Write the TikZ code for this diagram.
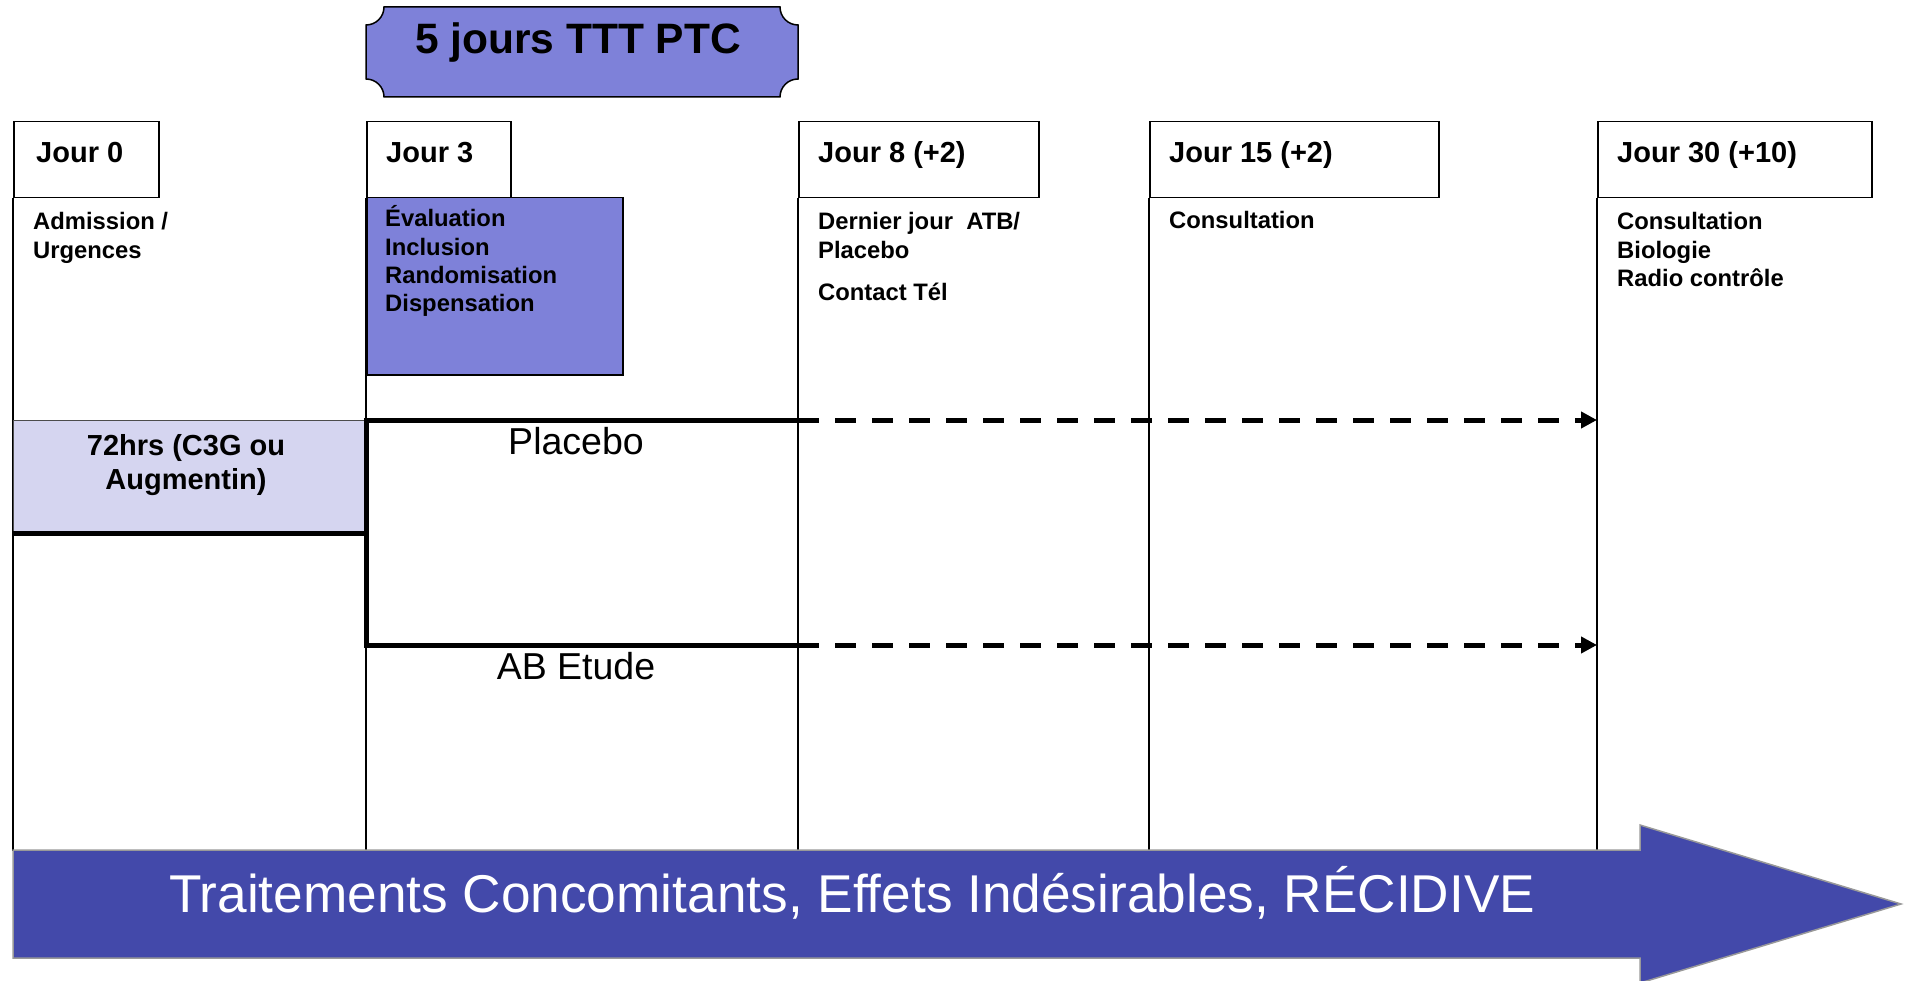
\documentclass[tikz,border=0pt]{standalone}
\usepackage{fontspec}
\setmainfont{Liberation Sans}
\usetikzlibrary{arrows.meta}
\definecolor{plaqueblue}{RGB}{126,129,217}
\definecolor{palelav}{RGB}{213,213,240}
\definecolor{bandblue}{RGB}{67,73,170}
\newcommand\fsz[2]{\fontsize{#1}{#2}\selectfont}
\newcommand\stackl[1]{\begin{tabular}[t]{@{}l@{}}#1\end{tabular}}
\newcommand\stackc[1]{\begin{tabular}[t]{@{}c@{}}#1\end{tabular}}
\begin{document}
\begin{tikzpicture}[x=1pt,y=-1pt,
  daybox/.style={draw=black,line width=1.5pt,fill=white,anchor=north west,inner sep=0pt,
                 minimum height=76pt},
  daylabel/.style={anchor=base west,inner sep=0pt,font=\fsz{29}{34}\bfseries},
  note/.style={anchor=base west,inner sep=0pt,font=\fsz{23.8}{28.3}\bfseries},
  colline/.style={line width=1.5pt},
  armline/.style={line width=5pt,line join=miter},
  armdash/.style={line width=5pt,dash pattern=on 21pt off 16pt,
                  -{Triangle[length=16pt,width=16pt]}},
  armlabel/.style={anchor=base,inner sep=0pt,font=\fsz{37.5}{42}},
]
\useasboundingbox (0,0) rectangle (1905,981);

% day headers
\node[daybox,minimum width=145pt] (d0)  at (13,121)   {};
\node[daybox,minimum width=144pt] (d3)  at (366,121)  {};
\node[daybox,minimum width=240pt] (d8)  at (798,121)  {};
\node[daybox,minimum width=289pt] (d15) at (1149,121) {};
\node[daybox,minimum width=274pt] (d30) at (1597,121) {};

% column rules down to the band
\coordinate (bandtop) at (0,851);
\foreach \d in {d0,d3,d8,d15,d30}
  \draw[colline] (\d.south west) -- (\d.south west |- bandtop);

\node[daylabel] (t0)  at (36,163)   {Jour 0};
\node[daylabel] (t3)  at (386,163)  {Jour 3};
\node[daylabel] (t8)  at (818,163)  {Jour 8 (+2)};
\node[daylabel] (t15) at (1169,163) {Jour 15 (+2)};
\node[daylabel] (t30) at (1617,163) {Jour 30 (+10)};

% treatment plaque
\filldraw[fill=plaqueblue,draw=black,line width=1.5pt]
  (384,7) -- (780,7) arc[start angle=180,end angle=90,radius=18]
  -- (798,79) arc[start angle=270,end angle=180,radius=18]
  -- (384,97) arc[start angle=0,end angle=-90,radius=18]
  -- (366,25) arc[start angle=90,end angle=0,radius=18] -- cycle;
\node[anchor=base,inner sep=0pt,font=\fsz{42.5}{48}\bfseries] (ttt) at (578,54) {5 jours TTT PTC};

% inclusion visit
\node[draw=black,line width=1.5pt,fill=plaqueblue,anchor=north west,inner sep=0pt,
      minimum width=256pt,minimum height=177pt] (eval) at (366,197) {};
\node[note] (evaltext) at (385,227) {\stackl{Évaluation\\Inclusion\\Randomisation\\Dispensation}};

% visit notes
\node[note] (n0)  at (33,230)   {\stackl{Admission /\\Urgences}};
\node[note] (n8)  at (818,230)  {\stackl{Dernier jour~ ATB/\\Placebo}};
\node[note] (n8b) at (818,301)  {Contact Tél};
\node[note] (n15) at (1169,229) {Consultation};
\node[note] (n30) at (1617,230) {\stackl{Consultation\\Biologie\\Radio contrôle}};

% initial antibiotic therapy
\node[draw=black!70,line width=1pt,fill=palelav,anchor=north west,inner sep=0pt,
      minimum width=353pt,minimum height=112pt] (h72) at (13,420) {};
\node[anchor=base,inner sep=0pt,font=\fsz{29}{34}\bfseries] (h72text) at (186,455)
  {\stackc{72hrs (C3G ou\\Augmentin)}};

% randomised arms
\coordinate (forktop) at (366,420);
\coordinate (forkbot) at (366,645);
\coordinate (p8) at (d8.south west |- forktop);
\coordinate (q8) at (d8.south west |- forkbot);
\coordinate (p30) at (d30.south west |- forktop);
\coordinate (q30) at (d30.south west |- forkbot);
\draw[armline] (h72.south west) -- (h72.south east);
\draw[armline] (p8) -- (forktop) -- (forkbot) -- (q8);
\draw[armdash] (p8) -- (p30);
\draw[armdash] (q8) -- (q30);
\node[armlabel] (placebo) at (576,454.5) {Placebo};
\node[armlabel] (abetude) at (576,679.5) {AB Etude};

% follow-up band
\filldraw[fill=bandblue,draw=black!40,line width=1.5pt]
  (13,850) -- (1640,850) -- (1640,825) -- (1901,904) -- (1640,983) -- (1640,958) -- (13,958) -- cycle;
\node[anchor=base west,inner sep=0pt,text=white,font=\fsz{53.2}{60}] (bandtext) at (169,912)
  {Traitements Concomitants, Effets Indésirables, RÉCIDIVE};
\end{tikzpicture}
\end{document}
